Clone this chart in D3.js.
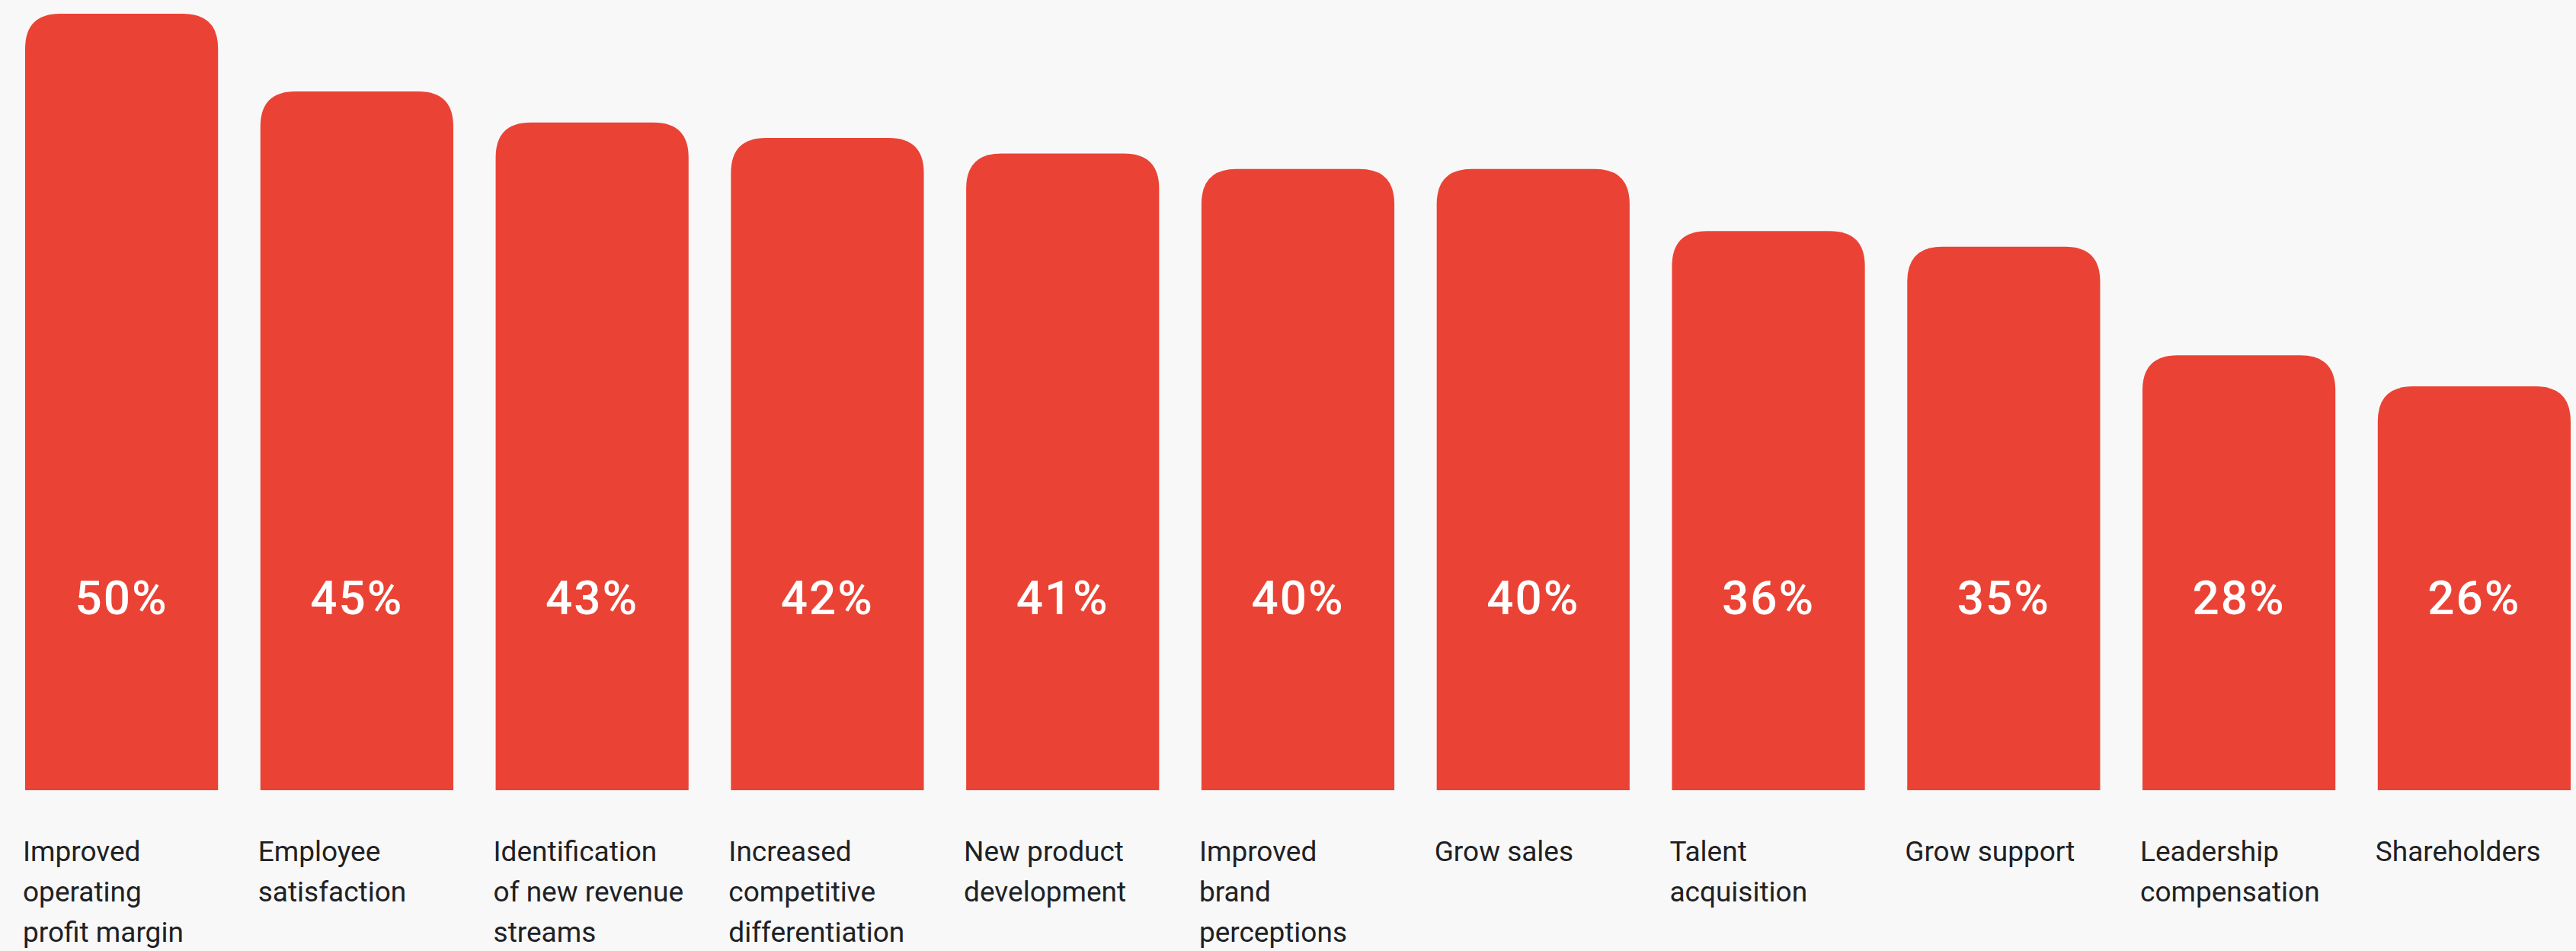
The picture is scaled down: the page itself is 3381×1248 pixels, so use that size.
<!DOCTYPE html>
<html>
<head>
<meta charset="utf-8">
<script src="https://cdn.jsdelivr.net/npm/d3@7"></script>
<style>
  html, body { margin: 0; padding: 0; background: #f8f8f8; }
  svg { display: block; }
</style>
</head>
<body>
<svg id="chart" width="3381" height="1248"></svg>
<script>
// Share of respondents citing each outcome (percent)
const categories = [
  "Improved operating profit margin",
  "Employee satisfaction",
  "Identification of new revenue streams",
  "Increased competitive differentiation",
  "New product development",
  "Improved brand perceptions",
  "Grow sales",
  "Talent acquisition",
  "Grow support",
  "Leadership compensation",
  "Shareholders"
];
const values = [50, 45, 43, 42, 41, 40, 40, 36, 35, 28, 26];
// Line breaks used for the category labels under each bar
const labelLines = [
  ["Improved", "operating", "profit margin"],
  ["Employee", "satisfaction"],
  ["Identification", "of new revenue", "streams"],
  ["Increased", "competitive", "differentiation"],
  ["New product", "development"],
  ["Improved", "brand", "perceptions"],
  ["Grow sales"],
  ["Talent", "acquisition"],
  ["Grow support"],
  ["Leadership", "compensation"],
  ["Shareholders"]
];

(function () {
  const W = 3381, H = 1248;
  const plotLeft = 33, plotRight = 3374, plotBase = 1037, plotTop = 18;
  const barColor = "#ea4335";
  const radius = 46;

  const svg = d3.select("#chart");
  svg.append("rect").attr("width", W).attr("height", H).attr("fill", "#f8f8f8");

  const x = d3.scaleBand()
    .domain(categories)
    .range([plotLeft, plotRight])
    .paddingInner(0.18)
    .paddingOuter(0);

  const y = d3.scaleLinear()
    .domain([0, 50])
    .range([plotBase, plotTop]);

  const data = categories.map((c, i) => ({ cat: c, value: values[i], lines: labelLines[i] }));

  // bar with rounded top corners only
  function barPath(d) {
    const x0 = x(d.cat), x1 = x0 + x.bandwidth();
    const y0 = y(d.value), y1 = y(0);
    const r = Math.min(radius, (x1 - x0) / 2, y1 - y0);
    return `M${x0},${y1}V${y0 + r}Q${x0},${y0} ${x0 + r},${y0}H${x1 - r}Q${x1},${y0} ${x1},${y0 + r}V${y1}Z`;
  }

  svg.append("g").selectAll("path")
    .data(data)
    .join("path")
    .attr("d", barPath)
    .attr("fill", barColor);

  // value labels inside bars
  svg.append("g").selectAll("text")
    .data(data)
    .join("text")
    .attr("x", d => x(d.cat) + x.bandwidth() / 2)
    .attr("y", 806)
    .attr("text-anchor", "middle")
    .attr("fill", "#ffffff")
    .attr("font-family", "Roboto, 'Open Sans', sans-serif")
    .attr("font-weight", 500)
    .attr("font-size", 62)
    .attr("letter-spacing", 2)
    .text(d => d.value + "%");

  // category labels below bars
  const lab = svg.append("g").selectAll("text")
    .data(data)
    .join("text")
    .attr("x", d => x(d.cat) - 3)
    .attr("y", 1130)
    .attr("fill", "#202124")
    .attr("font-family", "Roboto, 'Open Sans', sans-serif")
    .attr("font-size", 37);

  lab.selectAll("tspan")
    .data(d => d.lines.map(l => ({ l, x: x(d.cat) - 3 })))
    .join("tspan")
    .attr("x", t => t.x)
    .attr("dy", (t, i) => i === 0 ? 0 : 53)
    .text(t => t.l);
})();
</script>
</body>
</html>
